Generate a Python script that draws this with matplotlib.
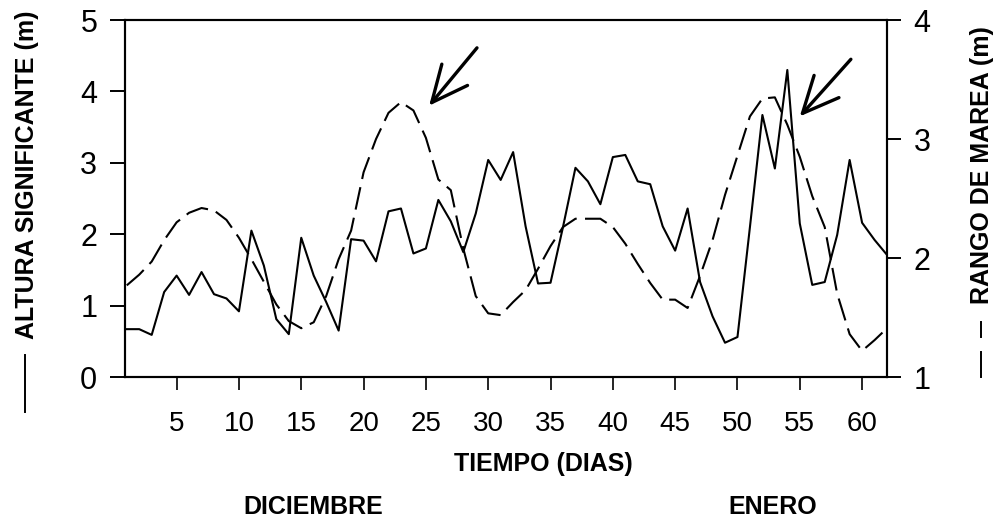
#Altura significante vs. rango de marea (dic-ene)

import numpy as np
import matplotlib
matplotlib.use("Agg")
import matplotlib.pyplot as plt
from matplotlib.lines import Line2D

plt.rcParams['font.family'] = ['Liberation Sans', 'DejaVu Sans']

#datos
dias = np.arange(1, 63)

altura = [0.67, 0.67, 0.59, 1.19, 1.42, 1.15, 1.47, 1.16, 1.10, 0.92,
          2.05, 1.56, 0.81, 0.60, 1.95, 1.42, 1.05, 0.65, 1.93, 1.91,
          1.62, 2.32, 2.36, 1.73, 1.80, 2.48, 2.18, 1.75, 2.29, 3.04,
          2.76, 3.15, 2.11, 1.31, 1.32, 2.10, 2.93, 2.74, 2.42, 3.08,
          3.11, 2.74, 2.70, 2.11, 1.77, 2.36, 1.33, 0.85, 0.48, 0.56,
          2.10, 3.67, 2.92, 4.30, 2.15, 1.29, 1.33, 1.99, 3.04, 2.16,
          1.92, 1.71]

marea = [1.77, 1.86, 1.97, 2.15, 2.30, 2.38, 2.42, 2.40, 2.32, 2.17,
         1.99, 1.80, 1.61, 1.47, 1.41, 1.46, 1.68, 1.99, 2.23, 2.72,
         3.00, 3.22, 3.31, 3.24, 3.01, 2.66, 2.57, 2.08, 1.68, 1.535,
         1.52, 1.63, 1.73, 1.91, 2.10, 2.26, 2.33, 2.33, 2.33, 2.26,
         2.12, 1.95, 1.79, 1.65, 1.65, 1.58, 1.85, 2.15, 2.53, 2.86,
         3.19, 3.34, 3.35, 3.12, 2.85, 2.52, 2.26, 1.70, 1.36, 1.22,
         1.31, 1.41]

xticks = list(range(5, 61, 5))

fig = plt.figure(figsize=(9.97, 5.25), dpi=100)
ax = fig.add_axes([0.1254, 0.2819, 0.7643, 0.68])
ax2 = ax.twinx()

ax.plot(dias, altura, color="black", lw=1.5)
ax2.plot(dias, marea, color="black", lw=1.5, dashes=(11, 4))

ax.set_xlim(0.86, 62.0)
ax.set_ylim(0, 5)
ax2.set_ylim(1, 4)
ax.set_xticks(xticks)
ax.set_yticks(range(0, 6))
ax2.set_yticks(range(1, 5))

for a in (ax, ax2):
    for s in a.spines.values():
        s.set_linewidth(1.5)
ax.tick_params(axis="y", direction="out", length=11, width=1.4, pad=9, labelsize=22)
ax.tick_params(axis="x", direction="out", length=9.5, width=1.2, pad=15, labelsize=20)
ax2.tick_params(axis="y", direction="out", length=10, width=1.4, pad=9, labelsize=22)

#flechas
ax.annotate("", xy=(25.26, 3.80), xytext=(29.1, 4.61),
            arrowprops=dict(arrowstyle="->,head_length=1.3,head_width=0.6",
                            lw=2.4, color="black", mutation_scale=20, shrinkA=0, shrinkB=0))
ax.annotate("", xy=(55.0, 3.65), xytext=(59.1, 4.45),
            arrowprops=dict(arrowstyle="->,head_length=1.3,head_width=0.6",
                            lw=2.4, color="black", mutation_scale=20, shrinkA=0, shrinkB=0))

#etiquetas
fig.text(0.027, 0.667, "ALTURA SIGNIFICANTE (m)", rotation=90, ha="center", va="center",
         fontsize=18, fontweight="bold")
fig.text(0.985, 0.686, "RANGO DE MAREA (m)", rotation=90, ha="center", va="center",
         fontsize=18, fontweight="bold")
fig.text(0.545, 0.116, "TIEMPO (DIAS)", ha="center", va="center", fontsize=18, fontweight="bold")
fig.text(0.314, 0.034, "DICIEMBRE", ha="center", va="center", fontsize=18, fontweight="bold")
fig.text(0.775, 0.034, "ENERO", ha="center", va="center", fontsize=18, fontweight="bold")

#simbolos de linea junto a las etiquetas
fig.add_artist(Line2D([0.025, 0.025], [0.324, 0.215], transform=fig.transFigure,
                      color="black", lw=1.4))
fig.add_artist(Line2D([0.984, 0.984], [0.387, 0.358], transform=fig.transFigure,
                      color="black", lw=1.4))
fig.add_artist(Line2D([0.984, 0.984], [0.330, 0.282], transform=fig.transFigure,
                      color="black", lw=1.4))

fig.savefig("out.png", dpi=100)
